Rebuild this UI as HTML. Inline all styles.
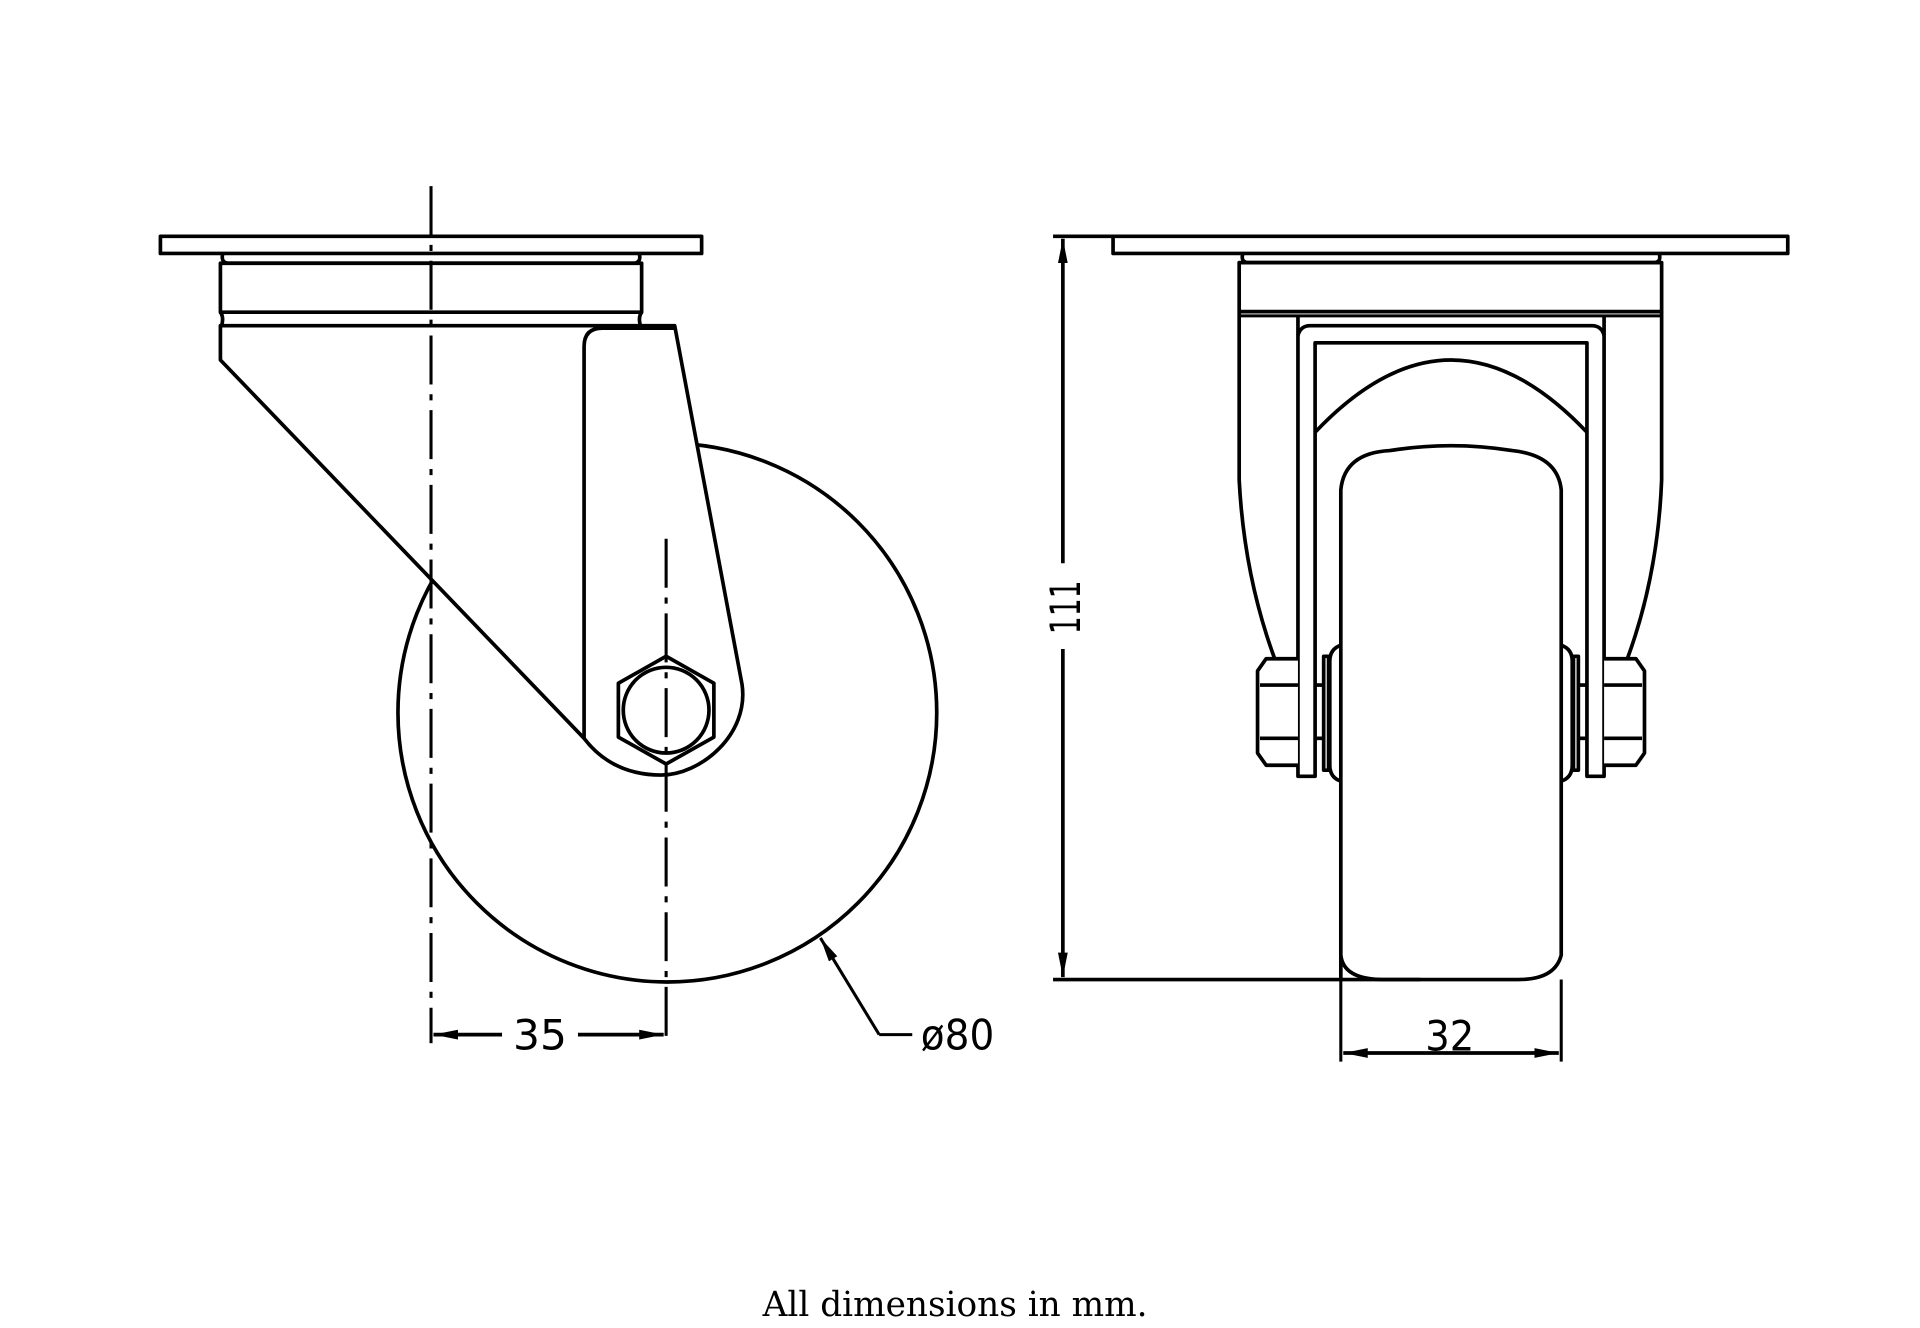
<!DOCTYPE html>
<html><head><meta charset="utf-8"><style>html,body{margin:0;padding:0;background:#fff}svg{display:block}</style></head>
<body>
<svg width="1920" height="1328" viewBox="0 0 1568 1084.6" preserveAspectRatio="none" xmlns="http://www.w3.org/2000/svg">
<defs>
<marker id="ar" viewBox="0 0 20 8" refX="20" refY="4" markerWidth="20" markerHeight="8" markerUnits="userSpaceOnUse" orient="auto-start-reverse">
<path d="M0,0 L20,4 L0,8 Z" fill="#000"/></marker>
</defs>
<g fill="none" stroke="#000" stroke-width="3" stroke-linejoin="round">
<!-- LEFT VIEW -->
<circle cx="545" cy="582" r="220"/>
<rect x="131" y="193" width="442" height="14" fill="#fff"/>
<path d="M182,207 Q180,214 186,215 H518 Q524,214 522,207" />
<rect x="180" y="215" width="344" height="40" fill="#fff"/>
<path d="M180,255 Q183,259 181,266 M524,255 Q521,259 523,266"/>
<path d="M180,266 V294 L477,603 C490,620 510,633 540,633 C572,633 612,600 606,559 L551,266 H180 Z" fill="#fff"/>
<path d="M477,603 V283 Q477,268 492,268 H551"/>
<polygon points="544,536 583,558 583,602 544,624 505,602 505,558"/>
<circle cx="544" cy="580" r="35"/>
<!-- centerlines -->
<line x1="352" y1="152" x2="352" y2="852" stroke-width="2.5" stroke-dasharray="40,8,5,8"/>
<line x1="544" y1="440" x2="544" y2="852" stroke-width="2.5" stroke-dasharray="40,8,5,8"/>
<!-- dim 35 -->
<line x1="354" y1="845" x2="410" y2="845" marker-start="url(#ar)"/>
<line x1="472" y1="845" x2="542" y2="845" marker-end="url(#ar)"/>
<!-- phi80 leader -->
<line x1="718" y1="845" x2="670" y2="766" marker-end="url(#ar)" stroke-width="2.5"/>
<line x1="718" y1="845" x2="745" y2="845" stroke-width="2.5"/>

<!-- RIGHT VIEW -->
<rect x="909" y="193" width="551" height="14" fill="#fff"/>
<path d="M1015,207 Q1013,214 1019,214.5 H1351 Q1357,214 1355,207"/>
<rect x="1012" y="214.5" width="345" height="40"/>
<line x1="1012" y1="258" x2="1357" y2="258" stroke-width="2.5"/>
<path d="M1012,254.5 V392 Q1016,470 1041,538 M1357,254.5 V392 Q1354,470 1329,538"/>
<path d="M1060,258 V634 H1074 V280 H1296 V634 H1310 V258"/>
<path d="M1060,274 Q1062,266 1070,266 H1300 Q1308,266 1310,274"/>
<path d="M1074,353 Q1130,294 1185,294 Q1240,294 1296,353"/>
<!-- wheel -->
<path d="M1095,800 V400 Q1098,370 1135,368 Q1160,364 1185,364 Q1210,364 1235,368 Q1272,372 1275,400 V780 Q1270,800 1240,800 H1130 Q1097,800 1095,780" fill="#fff"/>
<!-- nuts -->
<path d="M1060,538 H1034 L1027,548 V615 L1034,625 H1060" fill="#fff"/>
<line x1="1029" y1="559.5" x2="1060" y2="559.5"/><line x1="1029" y1="603" x2="1060" y2="603"/>
<path d="M1310,538 H1336 L1343,548 V615 L1336,625 H1310" fill="#fff"/>
<line x1="1310" y1="559.5" x2="1341" y2="559.5"/><line x1="1310" y1="603" x2="1341" y2="603"/>
<!-- axle/washers -->
<line x1="1074" y1="559.5" x2="1081" y2="559.5"/><line x1="1074" y1="603" x2="1081" y2="603"/>
<line x1="1289" y1="559.5" x2="1296" y2="559.5"/><line x1="1289" y1="603" x2="1296" y2="603"/>
<rect x="1081" y="536" width="4" height="93"/>
<rect x="1285" y="536" width="4" height="93"/>
<path d="M1095,527 Q1086,530 1086,540 V625 Q1086,635 1095,638"/>
<path d="M1275,527 Q1284,530 1284,540 V625 Q1284,635 1275,638"/>
<!-- dim 111 -->
<line x1="860" y1="193" x2="909" y2="193"/>
<line x1="860" y1="800" x2="1160" y2="800"/>
<line x1="868" y1="195" x2="868" y2="460" marker-start="url(#ar)"/>
<line x1="868" y1="530" x2="868" y2="798" marker-end="url(#ar)"/>
<!-- dim 32 -->
<line x1="1095" y1="800" x2="1095" y2="867" stroke-width="2.5"/>
<line x1="1275" y1="800" x2="1275" y2="867" stroke-width="2.5"/>
<line x1="1097" y1="860" x2="1273" y2="860" marker-start="url(#ar)" marker-end="url(#ar)"/>
</g>
<g font-family="'DejaVu Sans','Liberation Sans',sans-serif" font-size="34" fill="#000">
<text x="441" y="857" text-anchor="middle" textLength="44" lengthAdjust="spacingAndGlyphs">35</text>
<text x="752" y="857" textLength="60" lengthAdjust="spacingAndGlyphs">ø80</text>
<text x="1184" y="858" text-anchor="middle" textLength="40" lengthAdjust="spacingAndGlyphs">32</text>
<text transform="translate(882,496) rotate(-90)" text-anchor="middle" textLength="44" lengthAdjust="spacingAndGlyphs">111</text>
</g>
<text x="780" y="1075" text-anchor="middle" font-family="'DejaVu Serif','Liberation Serif',serif" font-size="28" fill="#000">All dimensions in mm.</text>
</svg>
</body></html>
